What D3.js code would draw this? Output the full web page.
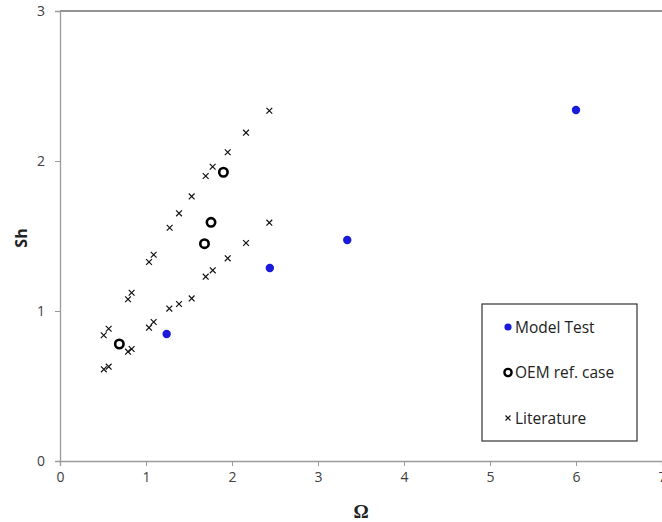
<!DOCTYPE html>
<html>
<head>
<meta charset="utf-8">
<script src="https://cdn.jsdelivr.net/npm/d3@7"></script>
<style>
  body { margin: 0; background: #fff; }
  text { font-family: "Open Sans", "DejaVu Sans", sans-serif; }
</style>
</head>
<body>
<div class="chart"></div>
<script>
// Sh vs Omega scatter

// Model test points
const modelX = [1.24, 2.44, 3.34, 6.0]
const modelY = [0.847, 1.287, 1.473, 2.34]

// OEM reference case
const oemX = [0.69, 1.68, 1.756, 1.90]
const oemY = [0.78, 1.449, 1.591, 1.925]

// Literature, two branches
const litX = [0.51, 0.566, 0.791, 0.833, 1.035, 1.089, 1.271, 1.384, 1.531, 1.694, 1.776, 1.95, 2.163, 2.434,
              0.508, 0.566, 0.791, 0.833, 1.035, 1.089, 1.275, 1.384, 1.531, 1.694, 1.775, 1.95, 2.163, 2.434]
const litY = [0.611, 0.629, 0.729, 0.747, 0.889, 0.927, 1.016, 1.047, 1.084, 1.229, 1.271, 1.351, 1.453, 1.589,
              0.838, 0.882, 1.078, 1.122, 1.327, 1.375, 1.555, 1.651, 1.764, 1.90, 1.962, 2.058, 2.189, 2.335]

const xTicks = [0, 1, 2, 3, 4, 5, 6, 7]
const yTicks = [0, 1, 2, 3]
const legendLabels = ['Model Test', 'OEM ref. case', 'Literature']

var svgWidth = 662
var svgHeight = 522
var margin = { top: 11, left: 60, right: 0, bottom: 61 }
var width = svgWidth - margin.left - margin.right
var height = svgHeight - margin.top - margin.bottom

var svg = d3.select('.chart').append('svg')
    .attr('width', svgWidth)
    .attr('height', svgHeight)

var g = svg.append('g')
    .attr('transform', `translate(${margin.left}, ${margin.top})`)

var xScale = d3.scaleLinear().domain([0, 7]).range([0, 602])
var yScale = d3.scaleLinear().domain([0, 3]).range([height, 0])

// top border
g.append('line')
    .attr('x1', 0).attr('x2', width)
    .attr('y1', 0).attr('y2', 0)
    .attr('stroke', '#707070').attr('stroke-width', 1.5)

var xAxis = g.append('g')
    .attr('transform', `translate(0, ${height})`)
    .call(d3.axisBottom(xScale).tickValues(xTicks).tickSize(5).tickPadding(6).tickFormat(d3.format('d')))
var yAxis = g.append('g')
    .call(d3.axisLeft(yScale).tickValues(yTicks).tickSize(5).tickPadding(10).tickFormat(d3.format('d')))

for (const ax of [xAxis, yAxis]) {
    ax.select('.domain').attr('stroke', '#9a9a9a').attr('stroke-width', 1.3)
    ax.selectAll('.tick line').attr('stroke', '#9a9a9a')
    ax.selectAll('.tick text').attr('fill', '#404040').attr('font-size', '14px')
        .style('font-family', '"Open Sans", sans-serif')
}

// axis titles
svg.append('text')
    .attr('transform', `translate(27, 238) rotate(-90)`)
    .attr('text-anchor', 'middle')
    .attr('font-size', '16px')
    .attr('font-weight', 'bold')
    .attr('fill', '#222')
    .text('Sh')

svg.append('text')
    .attr('x', 361).attr('y', 518)
    .attr('text-anchor', 'middle')
    .attr('font-size', '19px')
    .attr('font-weight', 'bold')
    .attr('fill', '#222')
    .style('font-family', '"Liberation Serif", serif')
    .text('Ω')

// crosses
function cross(sel, s) {
    sel.append('path')
        .attr('d', `M${-s},${-s}L${s},${s}M${-s},${s}L${s},${-s}`)
        .attr('stroke', '#111')
        .attr('stroke-width', 1.2)
        .attr('fill', 'none')
}

var lit = g.selectAll('.lit')
    .data(litX.map((x, i) => ({ x: x, y: litY[i] })))
    .enter().append('g')
    .attr('class', 'lit')
    .attr('transform', d => `translate(${xScale(d.x)}, ${yScale(d.y)})`)
cross(lit, 2.9)

g.selectAll('.oem')
    .data(oemX.map((x, i) => ({ x: x, y: oemY[i] })))
    .enter().append('circle')
    .attr('cx', d => xScale(d.x))
    .attr('cy', d => yScale(d.y))
    .attr('r', 4.2)
    .attr('fill', 'none')
    .attr('stroke', '#000')
    .attr('stroke-width', 2.6)

g.selectAll('.model')
    .data(modelX.map((x, i) => ({ x: x, y: modelY[i] })))
    .enter().append('circle')
    .attr('cx', d => xScale(d.x))
    .attr('cy', d => yScale(d.y))
    .attr('r', 4.2)
    .attr('fill', '#1a1ad8')

// legend
var legend = svg.append('g').attr('transform', 'translate(482, 304)')
legend.append('rect')
    .attr('width', 155).attr('height', 137)
    .attr('fill', '#fff')
    .attr('stroke', '#333').attr('stroke-width', 1.2)

legendLabels.forEach((label, i) => {
    var row = legend.append('g').attr('transform', `translate(26, ${23 + i * 45.5})`)
    if (i == 0) {
        row.append('circle').attr('r', 3.6).attr('fill', '#1a1ad8')
    } else if (i == 1) {
        row.append('circle').attr('r', 3.6).attr('fill', 'none')
            .attr('stroke', '#000').attr('stroke-width', 2.4)
    } else {
        cross(row, 2.5)
    }
    row.append('text')
        .attr('x', 7).attr('y', 5.5)
        .attr('font-size', '15.5px')
        .attr('fill', '#222')
        .text(label)
})
</script>
</body>
</html>
